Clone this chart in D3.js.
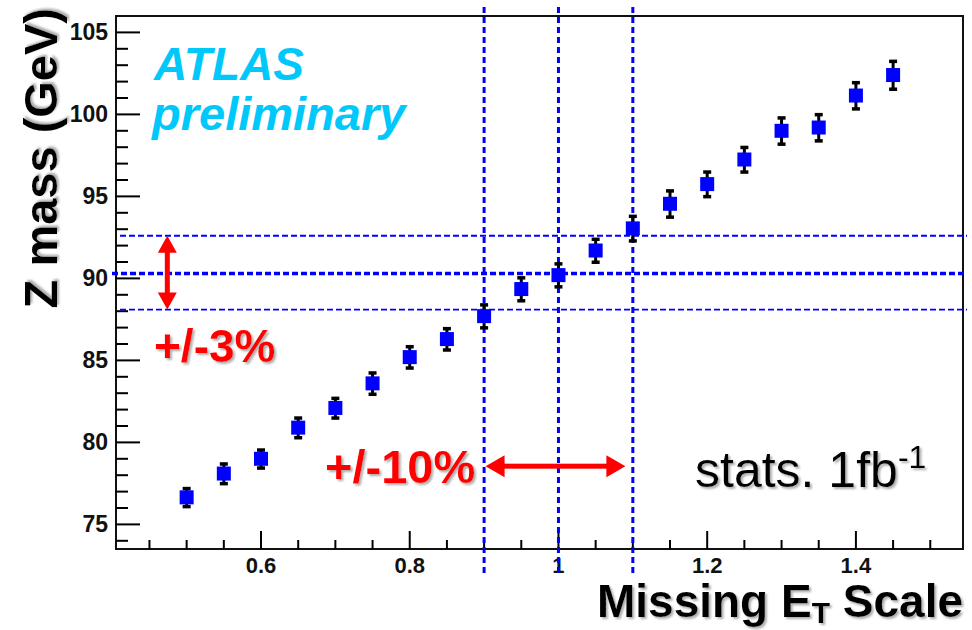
<!DOCTYPE html>
<html>
<head>
<meta charset="utf-8">
<script src="https://cdn.jsdelivr.net/npm/d3@7"></script>
<style>
  body { margin: 0; background: #fff; }
  svg { display: block; font-family: "Liberation Sans", Arial, Helvetica, sans-serif; }
</style>
</head>
<body>
<svg width="972" height="630"></svg>
<script>
const width = 972, height = 630;
const svg = d3.select("svg");

// --- data ---
const scales = [0.5, 0.55, 0.6, 0.65, 0.7, 0.75, 0.8, 0.85, 0.9, 0.95,
                1.0, 1.05, 1.1, 1.15, 1.2, 1.25, 1.3, 1.35, 1.4, 1.45];
const zMass = [76.65, 78.1, 79.0, 80.9, 82.1, 83.6, 85.2, 86.3, 87.7, 89.35,
               90.2, 91.7, 93.05, 94.55, 95.75, 97.25, 99.0, 99.2, 101.15, 102.4];
const zErr = [0.55, 0.6, 0.55, 0.6, 0.6, 0.65, 0.65, 0.65, 0.7, 0.7,
              0.7, 0.7, 0.75, 0.8, 0.75, 0.75, 0.8, 0.8, 0.8, 0.85];

const xMajorTicks = [0.6, 0.8, 1.0, 1.2, 1.4];
const xTickLabels = ["0.6", "0.8", "1", "1.2", "1.4"];
const yMajorTicks = [75, 80, 85, 90, 95, 100, 105];

const refLines = [0.9, 1.0, 1.1];     // scale window +/-10%
const massCentre = 90.3;
const massBand = [88.1, 92.6];         // +/-3% band
const xArrow = [0.902, 1.09];
const xArrowY = 78.55;
const yArrowX = 0.474;

const frame = { left: 116, right: 963, top: 16, bottom: 549 };

const x = d3.scaleLinear().domain([0.405, 1.544]).range([frame.left, frame.right]);
const y = d3.scaleLinear().domain([73.5, 106.0]).range([frame.bottom, frame.top]);

// shadow filter for the big texts
const defs = svg.append("defs");
defs.append("filter").attr("id", "shadow")
  .attr("x", "-5%").attr("y", "-5%").attr("width", "115%").attr("height", "130%")
  .append("feDropShadow")
  .attr("dx", 2).attr("dy", 2).attr("stdDeviation", 0.8)
  .attr("flood-color", "#999").attr("flood-opacity", 0.8);

// frame
svg.append("rect")
  .attr("x", frame.left).attr("y", frame.top)
  .attr("width", frame.right - frame.left).attr("height", frame.bottom - frame.top)
  .attr("fill", "none").attr("stroke", "#111").attr("stroke-width", 2);

// y axis ticks
const yMinor = d3.range(74, 106, 1);
svg.append("g").selectAll("line")
  .data(yMinor)
  .enter().append("line")
  .attr("x1", frame.left).attr("x2", d => frame.left + (d % 5 === 0 ? 24 : 12))
  .attr("y1", d => y(d)).attr("y2", d => y(d))
  .attr("stroke", "#000").attr("stroke-width", 2);

svg.append("g").selectAll("text")
  .data(yMajorTicks)
  .enter().append("text")
  .attr("x", 108).attr("y", d => y(d) + 8)
  .attr("text-anchor", "end")
  .attr("font-size", "23px").attr("font-weight", "bold")
  .attr("fill", "#111")
  .text(d => d);

// x axis ticks
const xMinor = d3.range(0.45, 1.52, 0.05).map(d => +d.toFixed(2));
svg.append("g").selectAll("line")
  .data(xMinor)
  .enter().append("line")
  .attr("x1", d => x(d)).attr("x2", d => x(d))
  .attr("y1", frame.bottom)
  .attr("y2", d => frame.bottom - (Math.abs(d * 5 - Math.round(d * 5)) < 1e-6 ? 18 : 9))
  .attr("stroke", "#000").attr("stroke-width", 2);

svg.append("g").selectAll("text")
  .data(xMajorTicks)
  .enter().append("text")
  .attr("x", d => x(d)).attr("y", 573)
  .attr("text-anchor", "middle")
  .attr("font-size", "22px").attr("font-weight", "bold")
  .attr("fill", "#111")
  .text((d, i) => xTickLabels[i]);

// reference dashed lines
svg.append("g").selectAll("line")
  .data(massBand)
  .enter().append("line")
  .attr("x1", frame.left + 4).attr("x2", 967)
  .attr("y1", d => y(d)).attr("y2", d => y(d))
  .attr("stroke", "#0000ff").attr("stroke-width", 1.8)
  .attr("stroke-dasharray", "6,3");

svg.append("line")
  .attr("x1", 112).attr("x2", 967)
  .attr("y1", y(massCentre)).attr("y2", y(massCentre))
  .attr("stroke", "#0000ff").attr("stroke-width", 3.5)
  .attr("stroke-dasharray", "6,3");

svg.append("g").selectAll("line")
  .data(refLines)
  .enter().append("line")
  .attr("x1", d => x(d)).attr("x2", d => x(d))
  .attr("y1", 7).attr("y2", 575)
  .attr("stroke", "#0000ff").attr("stroke-width", 3)
  .attr("stroke-dasharray", "6,4");

// data points
const pts = scales.map((s, i) => ({ s, m: zMass[i], e: zErr[i] }));
const gp = svg.append("g");
gp.selectAll("line.err")
  .data(pts)
  .enter().append("line")
  .attr("class", "err")
  .attr("x1", d => x(d.s)).attr("x2", d => x(d.s))
  .attr("y1", d => y(d.m - d.e)).attr("y2", d => y(d.m + d.e))
  .attr("stroke", "#000").attr("stroke-width", 3);
[-1, 1].forEach(sgn => {
  gp.selectAll(null)
    .data(pts)
    .enter().append("rect")
    .attr("x", d => x(d.s) - 4).attr("width", 8)
    .attr("y", d => y(d.m + sgn * d.e) - 1.5).attr("height", 3.5)
    .attr("fill", "#000");
});
gp.selectAll("rect.mk")
  .data(pts)
  .enter().append("rect")
  .attr("class", "mk")
  .attr("x", d => x(d.s) - 7).attr("y", d => y(d.m) - 7)
  .attr("width", 14).attr("height", 14)
  .attr("fill", "#0000ff");

// red double arrows
function doubleArrow(x1, y1, x2, y2, head, halfW, shaft) {
  const len = Math.hypot(x2 - x1, y2 - y1);
  const g = svg.append("g")
    .attr("transform", `translate(${x1},${y1}) rotate(${Math.atan2(y2 - y1, x2 - x1) * 180 / Math.PI})`);
  g.append("rect")
    .attr("x", head - 1).attr("y", -shaft / 2)
    .attr("width", len - 2 * head + 2).attr("height", shaft)
    .attr("fill", "#ff0000");
  g.append("path")
    .attr("d", `M0,0 L${head},${-halfW} L${head},${halfW} Z M${len},0 L${len - head},${-halfW} L${len - head},${halfW} Z`)
    .attr("fill", "#ff0000");
}
doubleArrow(x(yArrowX), y(massBand[1]), x(yArrowX), y(massBand[0]), 17, 9.5, 5);
doubleArrow(x(xArrow[0]), y(xArrowY), x(xArrow[1]), y(xArrowY), 19, 11, 5);

// labels
svg.append("text")
  .attr("x", 154).attr("y", 80)
  .attr("font-size", "46px").attr("font-weight", "bold").attr("font-style", "italic")
  .attr("fill", "#00c8fa")
  .text("ATLAS");
svg.append("text")
  .attr("x", 152).attr("y", 130)
  .attr("font-size", "47px").attr("font-weight", "bold").attr("font-style", "italic")
  .attr("fill", "#00c8fa")
  .text("preliminary");

svg.append("text")
  .attr("x", 154).attr("y", 362)
  .attr("font-size", "46px").attr("font-weight", "bold")
  .attr("fill", "#ff0000").attr("filter", "url(#shadow)")
  .text("+/-3%");

svg.append("text")
  .attr("x", 325).attr("y", 483)
  .attr("font-size", "47px").attr("font-weight", "bold")
  .attr("fill", "#ff0000").attr("filter", "url(#shadow)")
  .text("+/-10%");

const stats = svg.append("text")
  .attr("x", 695).attr("y", 487)
  .attr("font-size", "50px")
  .attr("fill", "#000").attr("filter", "url(#shadow)");
stats.append("tspan").text("stats. 1fb");
stats.append("tspan").attr("font-size", "32px").attr("dy", -19).text("-1");

// axis titles
svg.append("text")
  .attr("transform", "translate(57,8) rotate(-90)")
  .attr("text-anchor", "end")
  .attr("font-size", "47px").attr("font-weight", "bold")
  .attr("fill", "#000").attr("filter", "url(#shadow)")
  .text("Z mass (GeV)");

const xt = svg.append("text")
  .attr("x", 963).attr("y", 617)
  .attr("text-anchor", "end")
  .attr("font-size", "46px").attr("font-weight", "bold")
  .attr("fill", "#000").attr("filter", "url(#shadow)");
xt.append("tspan").text("Missing E");
xt.append("tspan").attr("font-size", "30px").attr("dy", 6).text("T");
xt.append("tspan").attr("dy", -6).text(" Scale");
</script>
</body>
</html>
